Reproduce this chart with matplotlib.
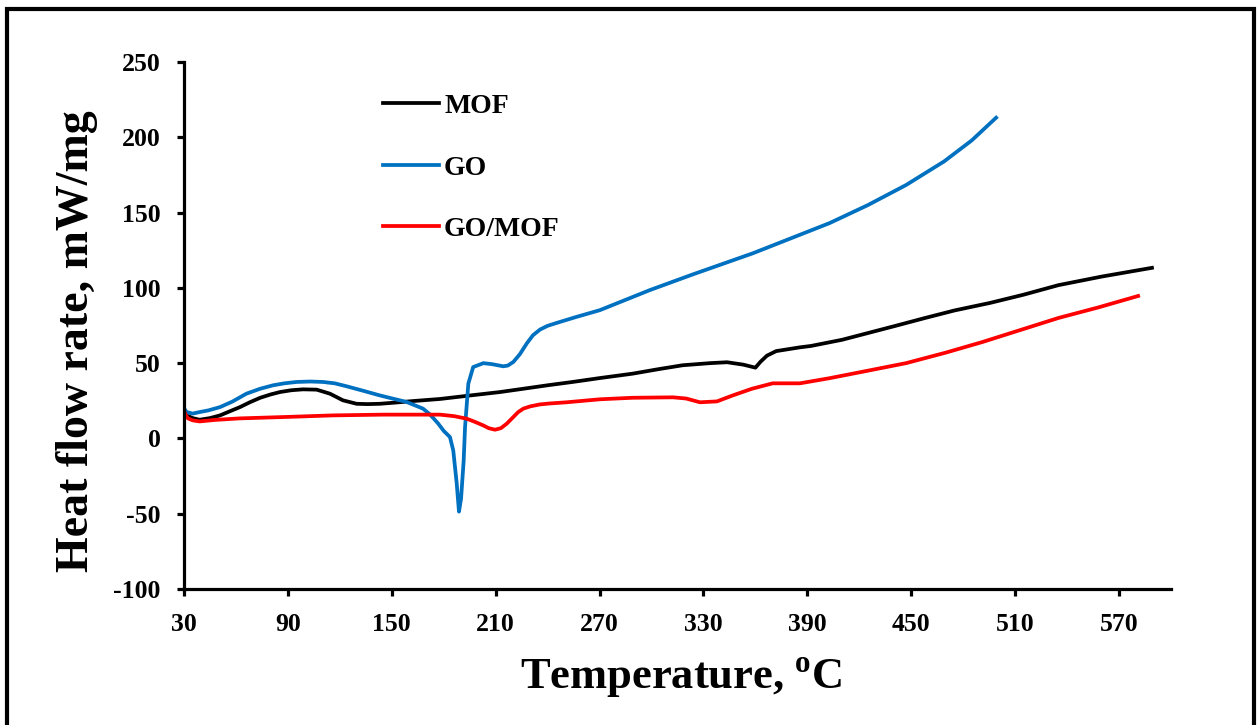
import matplotlib
matplotlib.use('Agg')
import matplotlib.pyplot as plt
from matplotlib.patches import Rectangle

plt.rcParams['font.family'] = ['Liberation Serif', 'DejaVu Serif']
plt.rcParams['font.weight'] = 'bold'
plt.rcParams['mathtext.fontset'] = 'custom'
plt.rcParams['mathtext.rm'] = 'Liberation Serif:bold'
plt.rcParams['mathtext.bf'] = 'Liberation Serif:bold'
plt.rcParams['axes.unicode_minus'] = False

# values (temperature in C, heat flow in mW/mg)
mof_t = [30, 31.5, 35, 39, 45, 50.8, 56, 62.3, 68, 74, 80, 85.4, 92, 98.7, 106.6, 114.3,
         121.8, 129.7, 136, 143, 152, 162, 177.8, 195, 212.5, 226, 240, 255, 270.2, 289,
         304, 318, 333.8, 343.6, 353, 360, 363, 366.7, 372, 385.7, 392, 410, 425, 440,
         458, 475, 495.5, 515, 535, 560, 589]
mof_y = [16, 15.3, 13.5, 12.4, 13.5, 15.3, 17.8, 20.8, 24, 27, 29.2, 30.8, 32, 32.6, 32.4, 29.7,
         25.3, 23, 22.8, 23, 23.8, 24.8, 26.2, 28.5, 30.8, 33, 35.3, 37.6, 40.1, 43,
         46, 48.6, 50, 50.6, 49, 47, 51, 55, 58, 60.5, 61.4, 65.5, 70, 74.5,
         80, 85, 90, 95.5, 101.8, 107.5, 113.3]

go_t = [30, 31.5, 35, 39, 44, 50.8, 58, 66, 74, 81.5, 88, 95, 103, 110.3, 117, 124,
        133, 143, 150, 158.6, 168, 172, 176.7, 180, 183.6, 185.5, 187.5, 188.8, 190,
        191.5, 192.3, 194.2, 197, 202.9, 208, 214.4, 217, 220.2, 224, 227.9, 231.5,
        235.6, 240, 245.2, 256, 270.2, 299, 324, 358.6, 402.8, 425, 447, 469, 485, 499]
go_y = [20, 17.5, 16.5, 17.5, 18.6, 20.8, 24.5, 29.7, 33, 35.3, 36.6, 37.5, 37.8, 37.5, 36.6, 34.6,
        31.8, 28.6, 26.6, 24.2, 19.8, 16, 10, 5, 0.9, -8, -30, -48.6, -40,
        -15, 7.3, 36.4, 47.4, 50, 49.3, 47.9, 48.4, 50.8, 56, 63, 68.5,
        72.3, 74.8, 76.7, 80.5, 85.2, 98.5, 109, 123, 143, 155, 168.3, 184, 198, 213]

gomof_t = [30, 31, 32.3, 35, 39, 48, 62, 90, 116, 145, 177.8, 186, 193.3, 198, 202.9,
           206, 209.6, 213, 216.4, 220, 223, 226, 230, 235.6, 241, 251, 270.2, 289,
           312.4, 320, 328, 337.8, 347, 358, 370, 385.7, 402.8, 425, 447, 470, 491, 513,
           535, 558, 581]
gomof_y = [18.6, 15.5, 13.3, 12, 11.3, 12.3, 13.3, 14.3, 15.3, 15.8, 15.8, 14.8, 13.1, 11, 8.6,
           6.8, 5.8, 6.8, 9.8, 14, 17.5, 19.8, 21.3, 22.6, 23.2, 24, 26, 27,
           27.3, 26.5, 24, 24.6, 28.6, 33, 36.6, 36.6, 40, 45, 50, 57, 64, 72,
           80, 87, 94.6]

x_ticks = list(range(30, 571, 60))
y_ticks = list(range(-100, 251, 50))

fig = plt.figure(figsize=(12.58, 7.25), dpi=100)
ax = fig.add_axes([184/1258, 1 - 589/725, 987/1258, 527/725])

ax.plot(mof_t, mof_y, color='black', lw=2.7, label='MOF', solid_joinstyle='round')
ax.plot(go_t, go_y, color='#0070C0', lw=2.7, label='GO', solid_joinstyle='round')
ax.plot(gomof_t, gomof_y, color='#FF0000', lw=2.7, label='GO/MOF', solid_joinstyle='round')

ax.set_xlim(30, 600)
ax.set_ylim(-100, 250)
ax.set_xticks(x_ticks)
ax.set_yticks(y_ticks)

for s in ['top', 'right']:
    ax.spines[s].set_visible(False)
for s in ['left', 'bottom']:
    ax.spines[s].set_linewidth(2.3)
ax.tick_params(direction='out', length=5, width=2.3, labelsize=18.5, pad=12)
for lab in ax.get_xticklabels() + ax.get_yticklabels():
    lab.set_fontweight('bold')

leg = ax.legend(loc='upper left', bbox_to_anchor=(0.2016, 0.94), frameon=False,
                fontsize=20, handlelength=2.0, handletextpad=0.2, labelspacing=1.3,
                borderpad=0, borderaxespad=0)
for t in leg.get_texts():
    t.set_fontweight('bold')

fig.text(77/1258, 1 - 341/725, 'Heat flow rate, mW/mg', rotation=90, ha='center',
         va='center', fontsize=33, fontweight='bold')
fig.text(681/1258, 1 - 690/725, r'Temperature, $^{\mathbf{o}}$C', ha='center',
         va='baseline', fontsize=32, fontweight='bold')

# outer frame (bottom edge lies outside the picture)
fig.add_artist(Rectangle((7/1258, -0.1), 1247/1258, 1.1 - 9/725, transform=fig.transFigure,
                         fill=False, lw=3, ec='black', clip_on=False))

fig.savefig('out.png', dpi=100)
